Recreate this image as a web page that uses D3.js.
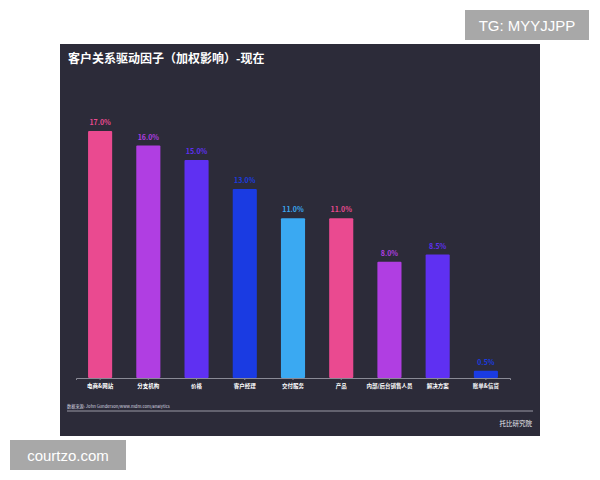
<!DOCTYPE html>
<html><head><meta charset="utf-8">
<script src="https://cdn.jsdelivr.net/npm/d3@7"></script>
<style>body{margin:0;background:#fff;font-family:"Noto Sans CJK SC","Noto Sans",sans-serif;}</style>
</head><body>
<svg id="c" width="600" height="480"></svg>
<script>
const categories = ["电商&网站","分支机构","价格","客户经理","交付服务","产品","内部/后台销售人员","解决方案","账单&信贷"];
const values = [17.0,16.0,15.0,13.0,11.0,11.0,8.0,8.5,0.5];
const valueLabels = ["17.0%","16.0%","15.0%","13.0%","11.0%","11.0%","8.0%","8.5%","0.5%"];
const barColors = ["#ea4a90","#b03ee2","#5f30f2","#1a3be2","#3aa9f2","#ea4a90","#b03ee2","#5f30f2","#1a3be2"];

const svg = d3.select("#c");
svg.append("rect").attr("x",60).attr("y",44).attr("width",480).attr("height",392).attr("fill","#2c2b39");
svg.append("text").attr("x",68).attr("y",63).attr("fill","#fff").attr("font-size",12).attr("font-weight","bold")
  .text("客户关系驱动因子（加权影响）-现在");

const x = d3.scaleBand().domain(categories).range([76,510]).paddingInner(0.5).paddingOuter(0.25);
const y = d3.scaleLinear().domain([0,17]).range([378,131]);

svg.selectAll("rect.bar").data(values).join("rect").attr("class","bar")
  .attr("x",(d,i)=>x(categories[i])).attr("width",x.bandwidth())
  .attr("y",d=>y(d)).attr("height",d=>y(0)-y(d)).attr("fill",(d,i)=>barColors[i]).attr("rx",1);

svg.selectAll("text.val").data(values).join("text").attr("class","val")
  .attr("x",(d,i)=>x(categories[i])+x.bandwidth()/2).attr("y",d=>y(d)-6)
  .attr("text-anchor","middle").attr("font-size",7).attr("font-weight","bold")
  .attr("fill",(d,i)=>barColors[i]).text((d,i)=>valueLabels[i]);

const ax = svg.append("g").attr("transform","translate(0,378)").call(d3.axisBottom(x).tickSize(2).tickPadding(4));
ax.select(".domain").attr("stroke","#8a8a96");
ax.selectAll(".tick line").attr("stroke","#8a8a96");
ax.selectAll("text").attr("fill","#fff").attr("font-size",5.5).attr("font-weight","bold").attr("font-family","Noto Sans CJK SC");

svg.append("text").attr("x",67).attr("y",408).attr("fill","#d8d8e0").attr("font-size",4.2)
  .text("数据来源: John Gunderson/www.mdm.com/analytics");
svg.append("line").attr("x1",67).attr("x2",533).attr("y1",411).attr("y2",411).attr("stroke","#9a9aa6").attr("stroke-width",1.2);
svg.append("text").attr("x",532).attr("y",426).attr("text-anchor","end").attr("fill","#e8e8ee").attr("font-size",6.5)
  .text("托比研究院");

svg.append("rect").attr("x",465).attr("y",10).attr("width",124).attr("height",30).attr("fill","#a8a8a8");
svg.append("text").attr("x",527).attr("y",31).attr("text-anchor","middle").attr("fill","#fff").attr("font-size",15)
  .attr("font-family","Liberation Sans, Arial").text("TG: MYYJJPP");
svg.append("rect").attr("x",10).attr("y",440).attr("width",116).attr("height",30).attr("fill","#a8a8a8");
svg.append("text").attr("x",68).attr("y",461).attr("text-anchor","middle").attr("fill","#fff").attr("font-size",15)
  .attr("font-family","Liberation Sans, Arial").text("courtzo.com");
</script>
</body></html>
